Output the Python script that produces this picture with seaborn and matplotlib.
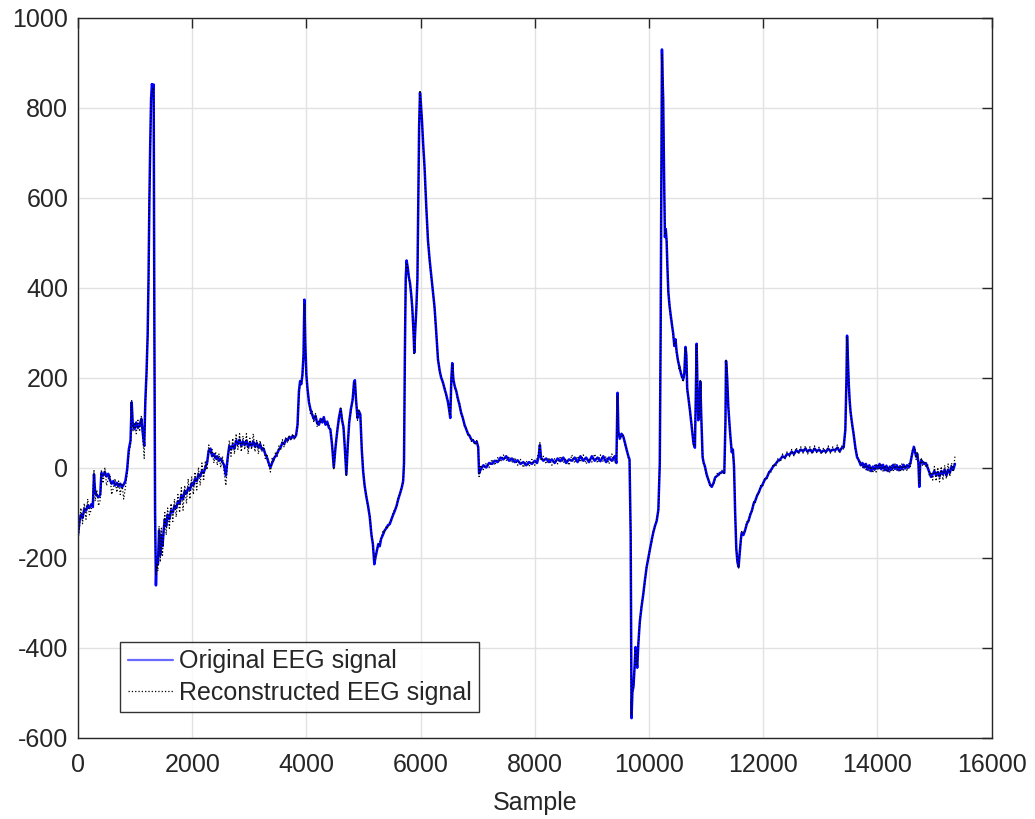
import numpy as np
import pandas as pd
import matplotlib
matplotlib.use("Agg")
import matplotlib.pyplot as plt
import seaborn as sns

# ---------------- data ----------------
sample = [
    # 0 - 1380
    0, 25, 50, 80, 110, 140, 170, 200, 230, 260, 280, 300, 330, 360, 390, 410, 440, 470, 500, 530,
    560, 590, 620, 650, 680, 710, 740, 770, 800, 830, 860, 890, 920, 940, 960, 990, 1020, 1050, 1080, 1110,
    1140, 1160, 1180, 1200, 1220, 1235, 1250, 1265, 1280, 1295, 1310, 1325, 1338, 1350, 1365, 1380,
    # 1400 - 2800
    1400, 1420, 1440, 1460, 1480, 1500, 1520, 1545, 1570, 1600, 1630, 1660, 1690, 1720, 1750, 1780, 1810, 1840, 1870, 1900,
    1930, 1960, 1990, 2020, 2050, 2080, 2110, 2140, 2170, 2200, 2230, 2260, 2290, 2320, 2350, 2380, 2410, 2440, 2470, 2500,
    2530, 2560, 2590, 2620, 2650, 2680, 2710, 2740, 2770, 2800,
    # 2830 - 4000
    2830, 2860, 2890, 2920, 2950, 2980, 3010, 3040, 3070, 3100, 3130, 3160, 3190, 3220, 3250, 3280, 3310, 3340, 3370, 3400,
    3430, 3460, 3490, 3520, 3550, 3580, 3610, 3640, 3670, 3700, 3730, 3760, 3790, 3820, 3845, 3870, 3890, 3910, 3930, 3950,
    3965, 3980, 4000,
    # 4020 - 5210
    4020, 4045, 4070, 4100, 4130, 4160, 4190, 4220, 4250, 4280, 4305, 4335, 4365, 4395, 4420, 4450, 4480, 4510, 4540, 4570,
    4600, 4625, 4650, 4675, 4700, 4725, 4750, 4780, 4810, 4835, 4850, 4870, 4895, 4920, 4945, 4970, 4995, 5020, 5050, 5080,
    5110, 5140, 5165, 5190, 5210,
    # 5235 - 7025
    5235, 5260, 5285, 5310, 5340, 5370, 5400, 5430, 5460, 5490, 5520, 5550, 5580, 5610, 5640, 5670, 5695, 5710, 5725, 5740,
    5755, 5775, 5795, 5815, 5835, 5855, 5877, 5890, 5905, 5925, 5945, 5960, 5975, 5990, 6005, 6025, 6045, 6070, 6100, 6130,
    6160, 6190, 6215, 6245, 6275, 6305, 6335, 6360, 6390, 6420, 6450, 6480, 6505, 6520, 6540, 6555, 6575, 6600, 6625, 6650,
    6680, 6710, 6740, 6770, 6800, 6830, 6860, 6890, 6920, 6950, 6985, 7010, 7025,
    # 7050 - 9430
    7050, 7100, 7150, 7200, 7250, 7300, 7350, 7400, 7450, 7500, 7550, 7600, 7650, 7700, 7750, 7800, 7850, 7900, 7950, 8000,
    8040, 8070, 8090, 8110, 8150, 8200, 8250, 8300, 8350, 8400, 8450, 8500, 8550, 8600, 8650, 8700, 8750, 8800, 8850, 8900,
    8950, 9000, 9050, 9100, 9150, 9200, 9250, 9300, 9350, 9400, 9430,
    # 9450 - 10400
    9450, 9465, 9490, 9520, 9550, 9580, 9610, 9640, 9660, 9680, 9695, 9710, 9730, 9750, 9765, 9780, 9795, 9815, 9840, 9870,
    9900, 9930, 9960, 9990, 10020, 10050, 10075, 10105, 10135, 10165, 10190, 10205, 10220, 10228, 10240, 10250, 10265, 10280, 10295, 10310,
    10325, 10340, 10360, 10380, 10400,
    # 10425 - 11625
    10425, 10445, 10465, 10485, 10505, 10525, 10545, 10570, 10600, 10620, 10640, 10655, 10670, 10695, 10720, 10750, 10780, 10805, 10820, 10835,
    10850, 10865, 10885, 10900, 10915, 10940, 10960, 10980, 11010, 11040, 11070, 11100, 11130, 11160, 11200, 11245, 11285, 11320, 11340, 11350,
    11370, 11390, 11420, 11450, 11470, 11490, 11510, 11530, 11550, 11570, 11590, 11610, 11625,
    # 11655 - 13410
    11655, 11685, 11715, 11745, 11775, 11805, 11835, 11865, 11895, 11925, 11955, 11990, 12025, 12065, 12100, 12140, 12180, 12220, 12260, 12300,
    12340, 12380, 12420, 12460, 12500, 12540, 12580, 12620, 12660, 12700, 12740, 12780, 12820, 12860, 12900, 12940, 12980, 13020, 13060, 13100,
    13140, 13180, 13220, 13260, 13300, 13340, 13380, 13410,
    # 13440 - 15360
    13440, 13460, 13470, 13485, 13500, 13515, 13530, 13555, 13585, 13615, 13645, 13680, 13710, 13740, 13770, 13800, 13830, 13860, 13890, 13920,
    13950, 13980, 14010, 14040, 14070, 14100, 14130, 14160, 14190, 14220, 14250, 14280, 14310, 14340, 14370, 14400, 14430, 14460, 14490, 14520,
    14550, 14580, 14610, 14640, 14660, 14680, 14700, 14720, 14735, 14750, 14770, 14790, 14820, 14850, 14880, 14910, 14940, 14970, 15000, 15030,
    15060, 15090, 15120, 15150, 15180, 15210, 15240, 15270, 15300, 15330, 15360,
]

original = [
    -150, -120, -105, -112, -92, -96, -84, -90, -82, -88, -15, -55, -62, -66, -60, -12, -18, -10, -20, -14,
    -28, -36, -30, -40, -34, -42, -36, -44, -38, -30, -5, 40, 60, 145, 95, 85, 100, 88, 95, 108,
    70, 48, 150, 210, 295, 420, 590, 720, 820, 852, 840, 851, 300, -100, -262, -200,
    -215, -140, -195, -150, -175, -140, -115, -130, -105, -115, -95, -100, -85, -90, -75, -80, -62, -70, -52, -58,
    -45, -50, -35, -40, -25, -30, -15, -20, -8, -12, 0, 10, 38, 42, 25, 30, 20, 25, 15, 20,
    12, 5, -18, 20, 48, 40, 50, 42, 60, 52,
    62, 48, 58, 50, 60, 45, 55, 48, 58, 46, 55, 44, 52, 40, 42, 30, 22, 10, 0, 10,
    20, 25, 32, 40, 45, 55, 52, 62, 60, 68, 64, 70, 66, 72, 95, 170, 192, 185, 205, 250,
    373, 280, 205,
    175, 145, 130, 118, 108, 115, 98, 95, 108, 100, 112, 95, 102, 88, 85, 50, 0, 45, 80, 110,
    130, 105, 90, 40, -16, 50, 100, 130, 150, 190, 194, 150, 110, 125, 118, 40, -10, -40, -65, -85,
    -110, -150, -170, -215, -200,
    -185, -170, -175, -158, -150, -140, -135, -128, -126, -115, -105, -96, -85, -70, -58, -45, -30, 10, 250, 420,
    460, 445, 423, 410, 386, 355, 300, 255, 300, 350, 420, 600, 760, 833, 810, 770, 720, 667, 580, 504,
    460, 423, 390, 356, 300, 240, 215, 200, 190, 175, 162, 145, 125, 110, 200, 232, 195, 180, 170, 155,
    140, 122, 110, 95, 85, 75, 70, 62, 60, 55, 57, 45, -13,
    -5, 5, 0, 10, 8, 15, 12, 22, 18, 25, 15, 20, 12, 16, 8, 12, 5, 12, 8, 15,
    10, 25, 50, 22, 15, 20, 12, 18, 10, 20, 14, 22, 10, 18, 15, 22, 12, 25, 15, 22,
    12, 25, 15, 22, 14, 25, 12, 22, 15, 25, 10,
    166, 80, 64, 75, 69, 55, 39, 25, 18, -150, -557, -500, -486, -440, -399, -430, -445, -390, -343, -310,
    -282, -250, -221, -200, -180, -160, -145, -130, -119, -94, 10, 300, 700, 929, 860, 817, 650, 512, 530, 502,
    440, 390, 360, 339, 320,
    298, 270, 285, 258, 240, 228, 217, 205, 196, 210, 268, 250, 176, 150, 125, 90, 54, 44, 150, 275,
    180, 105, 130, 191, 120, 23, 10, 3, -15, -27, -38, -43, -35, -22, -18, -12, -10, -12, 100, 237,
    200, 135, 80, 34, 40, 3, -100, -180, -210, -221, -190, -160, -145,
    -150, -139, -125, -118, -105, -95, -80, -73, -62, -55, -45, -38, -28, -22, -12, -5, 3, 8, 15, 18,
    25, 22, 30, 28, 35, 30, 38, 34, 40, 36, 42, 35, 40, 34, 42, 36, 40, 34, 38, 35,
    42, 36, 40, 38, 44, 36, 44, 45,
    84, 200, 293, 240, 186, 150, 125, 100, 74, 45, 23, 15, 5, 10, 0, 8, -5, 5, -8, 2,
    -5, 5, -2, 8, -4, 6, -6, 4, -8, 2, -5, 6, -3, 5, -6, 3, -4, 6, -2, 5,
    0, 10, 30, 46, 35, 24, 30, 10, -43, 5, 16, 12, 8, 10, 0, -10, -21, -15, -8, -18,
    -10, -20, -8, -15, -5, -18, -5, -12, 2, -5, 8,
]

reconstructed = [
    -160, -135, -90, -125, -80, -115, -70, -105, -95, -70, -5, -75, -50, -85, -72, -5, -35, 0, -40, -25,
    -15, -60, -45, -25, -55, -30, -60, -35, -70, -45, -15, 30, 50, 150, 80, 100, 75, 105, 80, 115,
    60, 20, 140, 200, 290, 400, 600, 680, 800, 830, 845, 830, 280, -110, -240, -215,
    -230, -130, -210, -135, -195, -150, -100, -150, -90, -135, -80, -120, -70, -110, -60, -100, -45, -95, -40, -80,
    -25, -70, -20, -60, -10, -50, 0, -40, 10, -30, 15, -5, 50, 30, 40, 10, 35, 5, 30, 0,
    25, -10, -40, 10, 60, 25, 65, 30, 75, 40,
    75, 35, 70, 40, 75, 30, 65, 40, 75, 35, 60, 30, 60, 35, 50, 20, 30, 5, -10, 20,
    12, 35, 25, 48, 38, 62, 45, 68, 55, 72, 60, 75, 62, 70, 90, 160, 185, 190, 200, 240,
    365, 270, 210,
    170, 150, 120, 125, 100, 120, 90, 105, 100, 110, 105, 100, 95, 95, 80, 55, -5, 40, 85, 105,
    135, 110, 85, 45, -20, 45, 105, 125, 155, 185, 190, 155, 105, 130, 110, 45, 0, -45, -60, -90,
    -105, -145, -175, -205, -195,
    -180, -175, -165, -160, -140, -145, -130, -135, -120, -118, -100, -92, -88, -65, -60, -40, -35, 5, 240, 410,
    455, 440, 425, 405, 390, 350, 290, 250, 310, 345, 410, 590, 750, 838, 800, 775, 715, 660, 575, 510,
    455, 420, 395, 350, 295, 245, 210, 205, 185, 180, 155, 150, 120, 115, 195, 228, 200, 175, 172, 150,
    145, 118, 112, 90, 88, 70, 72, 58, 63, 50, 60, 40, -20,
    5, -5, 10, 0, 18, 5, 22, 12, 28, 15, 25, 10, 22, 5, 18, 0, 15, 2, 18, 5,
    20, 35, 55, 15, 25, 8, 22, 5, 20, 8, 25, 10, 20, 5, 28, 10, 25, 12, 28, 8,
    20, 12, 30, 10, 28, 12, 25, 8, 30, 10, 15,
    160, 75, 70, 68, 72, 50, 42, 20, 15, -140, -550, -495, -480, -445, -405, -425, -440, -395, -345, -305,
    -285, -255, -218, -205, -178, -165, -140, -135, -115, -100, 5, 290, 690, 920, 850, 810, 640, 520, 525, 505,
    445, 385, 365, 330, 325,
    290, 275, 280, 250, 245, 220, 225, 200, 190, 205, 265, 255, 170, 155, 120, 95, 50, 48, 145, 272,
    175, 110, 125, 195, 115, 25, 5, 0, -20, -25, -42, -40, -38, -25, -12, -18, -5, -15, 95, 240,
    195, 140, 75, 40, 35, 5, -95, -185, -205, -225, -185, -165, -140,
    -145, -142, -120, -122, -100, -98, -75, -78, -58, -60, -40, -42, -25, -26, -8, -10, 8, 2, 20, 12,
    30, 18, 35, 24, 40, 26, 44, 30, 46, 32, 48, 30, 46, 30, 48, 32, 45, 30, 44, 30,
    48, 32, 46, 34, 50, 32, 48, 40,
    80, 195, 290, 235, 190, 145, 130, 95, 78, 40, 28, 10, 12, 0, 8, -5, 5, -8, 2, -12,
    5, -10, 8, -5, 6, -8, 4, -10, 2, -12, 6, -8, 8, -6, 4, -10, 8, -6, 5, -8,
    10, 2, 38, 40, 45, 18, 35, 5, -35, 0, 22, 5, 15, 0, 8, -18, -10, -28, 2, -30,
    0, -32, 2, -28, 5, -25, 8, -20, 10, -10, 25,
]

series_labels = ["Original EEG signal", "Reconstructed EEG signal"]
x_ticks = list(range(0, 16001, 2000))
y_ticks = list(range(-600, 1001, 200))

assert len(sample) == len(original) == len(reconstructed), (len(sample), len(original), len(reconstructed))

df_orig = pd.DataFrame({"Sample": sample, "Value": original})
df_rec = pd.DataFrame({"Sample": sample, "Value": reconstructed})

# ---------------- plotting ----------------
sns.set_style("white")
plt.rcParams["font.family"] = ["Liberation Sans", "DejaVu Sans"]
plt.rcParams["axes.unicode_minus"] = False

fig = plt.figure(figsize=(10.35, 8.19), dpi=100)
ax = fig.add_axes([78 / 1035, (819 - 737.5) / 819, (991.5 - 78) / 1035, 720 / 819])

sns.lineplot(data=df_orig, x="Sample", y="Value", ax=ax, color="#0000ff", linewidth=1.8,
             label=series_labels[0], estimator=None, sort=False)
sns.lineplot(data=df_rec, x="Sample", y="Value", ax=ax, color="black", linewidth=0.9,
             linestyle=":", label=series_labels[1], estimator=None, sort=False)

ax.set_xlim(0, 16000)
ax.set_ylim(-600, 1000)
ax.set_xticks(x_ticks)
ax.set_yticks(y_ticks)
ax.grid(True, color="#e2e2e2", linewidth=1)
ax.set_axisbelow(True)
ax.tick_params(direction="in", length=7, width=1, top=True, right=True,
               labelsize=18, colors="#262626")
ax.tick_params(axis="y", pad=7)
ax.tick_params(axis="x", pad=11)
for sp in ax.spines.values():
    sp.set_color("#262626")
    sp.set_linewidth(1)

ax.set_xlabel("Sample", fontsize=18, color="#262626", labelpad=10)
ax.set_ylabel("")

leg = ax.legend(loc="lower left", bbox_to_anchor=(0.046, 0.035), borderaxespad=0,
                frameon=True, fancybox=False, edgecolor="black", fontsize=18,
                handlelength=1.8, handletextpad=0.25, labelspacing=0.3, borderpad=0.3)
leg.get_frame().set_linewidth(1)
leg.get_lines()[0].set_linewidth(1.6)
leg.get_lines()[0].set_color("#6a6aff")

fig.savefig("out.png", dpi=100)
